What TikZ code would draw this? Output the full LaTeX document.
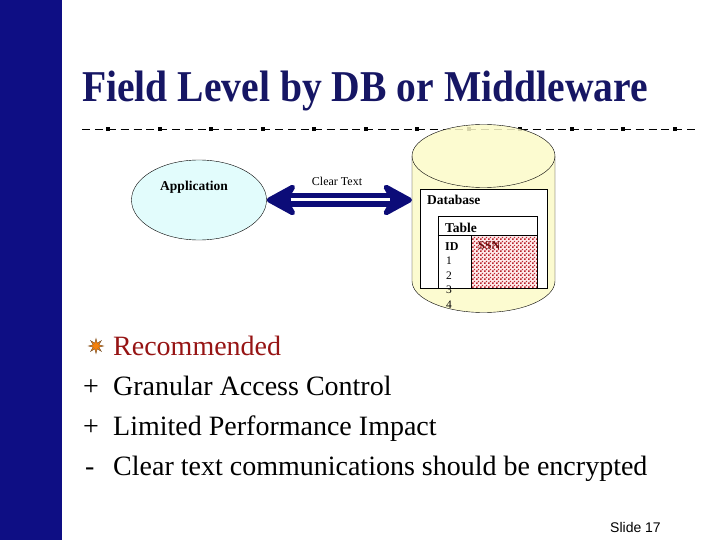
\documentclass[tikz,border=0pt]{standalone}
\usepackage{fontspec}
\setmainfont{Liberation Serif}
\setsansfont{Liberation Sans}
\usetikzlibrary{positioning, calc, shapes.geometric, arrows.meta, patterns}

\definecolor{barblue}{RGB}{14,14,132}
\definecolor{titleblue}{RGB}{22,22,100}
\definecolor{arrowblue}{RGB}{12,12,120}
\definecolor{appcyan}{RGB}{226,252,252}
\definecolor{dbyellow}{RGB}{252,250,200}
\definecolor{recred}{RGB}{150,20,20}
\definecolor{ssnred}{RGB}{185,35,45}

\pgfdeclarepatternformonly{ssndots}{\pgfpointorigin}{\pgfpoint{4pt}{4pt}}{\pgfpoint{4pt}{4pt}}{
  \pgfpathrectangle{\pgfpoint{0.2pt}{0.2pt}}{\pgfpoint{1.7pt}{1.7pt}}
  \pgfpathrectangle{\pgfpoint{2.2pt}{2.2pt}}{\pgfpoint{1.7pt}{1.7pt}}
  \pgfusepath{fill}}

\tikzstyle{Title} = [font=\bfseries\fontsize{44}{50}\selectfont, text=titleblue,
  anchor=base, inner sep=0pt]
\tikzstyle{Small} = [font=\bfseries\fontsize{13.5}{15}\selectfont, inner sep=0pt]
\tikzstyle{Tiny} = [font=\fontsize{11.5}{13}\selectfont, inner sep=0pt, anchor=base west]
\tikzstyle{Bullet} = [font=\fontsize{28}{32}\selectfont, anchor=base west, inner sep=0pt]
\tikzstyle{Bigarrow} = [arrowblue, line width=14pt,
  {Stealth[length=35pt, width=38pt, inset=11pt, round, line width=5pt]}-{Stealth[length=35pt, width=38pt, inset=11pt, round, line width=5pt]}]

\begin{document}
\begin{tikzpicture}[x=1pt, y=-1pt]
    \useasboundingbox (0,0) rectangle (720,540);
    % side band
    \fill[barblue] (0,0) rectangle (62,540);

    \node[Title] (title) at (365,102) {\scalebox{0.9}[1]{Field Level by DB or Middleware}};

    % rule under the title
    \draw[line width=0.8pt, dash pattern=on 8pt off 4.875pt] (82,129) -- (695,129);
    \foreach \k in {0,...,11}
        \fill ({106+51.5*\k},127) rectangle ++(4,4);

    \node[ellipse, draw, fill=appcyan, minimum width=135pt, minimum height=80pt] (app) at (199,200) {};
    \node[Small, anchor=base] (applbl) at (194,191) {Application};

    % database drum
    \node[minimum width=143pt, minimum height=188pt, inner sep=0pt, outer sep=0pt] (db) at (483.5,218.5) {};
    \path[draw, fill=dbyellow, fill opacity=0.85]
        ([yshift=-31.5pt]db.north west) -- ([yshift=31.5pt]db.south west)
        arc[start angle=180, end angle=360, x radius=71.5pt, y radius=31.5pt]
        -- ([yshift=-31.5pt]db.north east)
        arc[start angle=0, end angle=180, x radius=71.5pt, y radius=31.5pt] -- cycle;
    \draw ([yshift=-31.5pt]db.north west)
        arc[start angle=180, end angle=360, x radius=71.5pt, y radius=31.5pt];

    \draw[Bigarrow] (app.east) -- (app.east -| db.west);
    \draw[white, line width=3pt, shorten <=24pt, shorten >=22pt] (app.east) -- (app.east -| db.west);
    \node[font=\fontsize{12}{14}\selectfont, inner sep=0pt, anchor=base] (clear) at (337,186) {Clear Text};

    \node[draw, fill=white, minimum width=127pt, minimum height=99pt, inner sep=0pt] (dbbox) at (483.5,238.5) {};
    \node[Small, anchor=base west] (dblbl) at (427,205) {Database};

    % table with the ssn column
    \node[draw, fill=white, minimum width=99pt, minimum height=72pt, inner sep=0pt] (tbl) at (487.5,252) {};
    \fill[red!8] (471,235) rectangle (tbl.south east);
    \fill[pattern=ssndots, pattern color=ssnred] (471,235) rectangle (tbl.south east);
    \draw (tbl.west |- 0,235) -- (tbl.east |- 0,235);
    \draw (471,235) -- (tbl.south -| 471,0);
    \draw (tbl.south west) rectangle (tbl.north east);
    \node[Small, anchor=base west] (tbllbl) at (445,233) {Table};
    \node[Tiny, font=\bfseries\fontsize{12}{13}\selectfont] (id) at (445,250) {ID};
    \node[Tiny, font=\bfseries\fontsize{12}{13}\selectfont, text=recred!70!black] (ssn) at (478,249) {SSN};
    \node[Tiny] (r1) at (446,264) {1};
    \node[Tiny] (r2) at (446,279) {2};
    \node[Tiny] (r3) at (446,293) {3};
    \node[Tiny] (r4) at (446,308) {4};

    % bullet list
    \node[star, star points=8, star point ratio=2.4, minimum size=15pt, inner sep=0pt,
        fill=orange!85!brown, draw=brown!60!black, line width=0.4pt] (star) at (96,346) {};
    \node[Bullet, text=recred] (rec) at (113,355) {Recommended};
    \node[Bullet] (plusa) at (83,395) {+};
    \node[Bullet] (gran) at (113,395) {Granular Access Control};
    \node[Bullet] (plusb) at (83,435) {+};
    \node[Bullet] (perf) at (113,435) {Limited Performance Impact};
    \node[Bullet] (minus) at (85,475) {-};
    \node[Bullet] (comm) at (113,475) {Clear text communications should be encrypted};

    \node[font=\sffamily\fontsize{14}{16}\selectfont, anchor=base west, inner sep=0pt] (slide) at (610,532) {Slide 17};
\end{tikzpicture}
\end{document}
